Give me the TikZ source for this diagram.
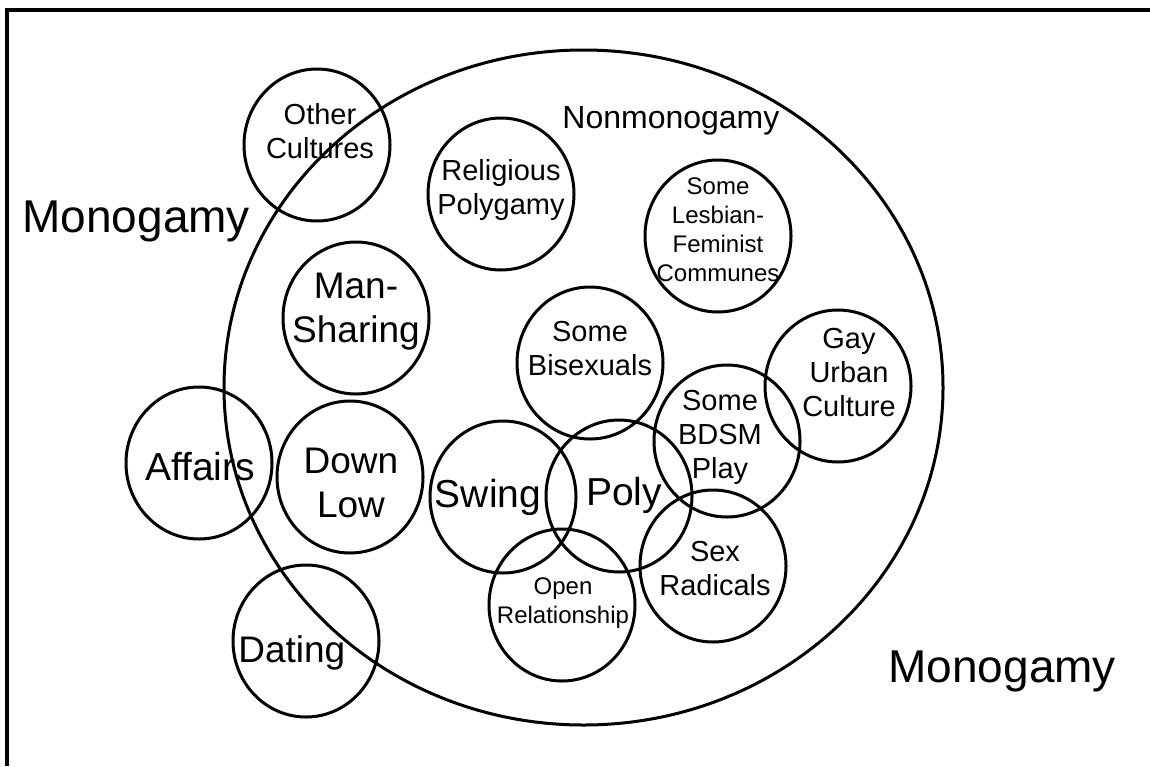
\documentclass[tikz,border=0pt]{standalone}
\usepackage{fontspec}
\setmainfont{Liberation Sans}
\usetikzlibrary{shapes.geometric}

\tikzset{
  ring/.style={draw, ellipse, line width=1.5pt, inner sep=0pt},
  bub/.style={ring, minimum width=73pt, minimum height=76pt},
  lbl/.style={align=center, inner sep=0pt},
  t12/.style={lbl, font=\fontsize{12}{14.5}\selectfont},
  t14/.style={lbl, font=\fontsize{14.5}{17}\selectfont},
  t18/.style={lbl, font=\fontsize{18.5}{22}\selectfont},
  t19/.style={lbl, font=\fontsize{19.5}{22}\selectfont},
}

\begin{document}
\begin{tikzpicture}[x=0.5pt, y=-0.5pt]
  \useasboundingbox (0,0) rectangle (1150,766);
  \fill[white] (0,0) rectangle (1150,766);
  \draw[line width=2pt] (7,766) -- (7,10) -- (1150,10);

  % the large set
  \node[ring, minimum width=359.5pt, minimum height=337.5pt] (nonmono) at (583.5,387.5) {};
  \node[lbl, anchor=base west, font=\fontsize{16}{19}\selectfont] (nonmono-t) at (562,128) {Nonmonogamy};
  \node[lbl, anchor=base west, font=\fontsize{23}{27}\selectfont] (mono-l) at (22,232) {Monogamy};
  \node[lbl, anchor=base west, font=\fontsize{23}{27}\selectfont] (mono-r) at (888,682) {Monogamy};

  % bubbles: name / centre / text offset / size / text
  \foreach \nm/\cx/\cy/\dx/\dy/\sz/\txt in {
    oc/317/145/3/-14/t14/{Other\\Cultures},
    rp/501/194/0/-4/t14/{Religious\\Polygamy},
    lfc/718/236/0/-6/t12/{Some\\Lesbian-\\Feminist\\Communes},
    ms/356/318/0/-6/t18/{Man-\\Sharing},
    sb/590/363/0/-14/t14/{Some\\Bisexuals},
    guc/838/386/11/-13/t14/{Gay\\Urban\\Culture},
    aff/199/463/1/4/t19/{Affairs},
    dl/350/477/1/6/t18/{Down\\Low},
    sw/503/497/-15/0/t19/{Swing},
    po/619/496/5/-1/t19/{Poly},
    bdsm/727/441/-7/-4/t14/{Some\\BDSM\\Play},
    sr/713/566/2/3/t14/{Sex\\Radicals},
    or/562/605/1/-2/t12/{Open\\Relationship},
    dat/306/641/-9/12/t18/{Dating}
  }{
    \node[bub] (\nm) at (\cx,\cy) {};
    \node[\sz] (\nm-t) at ([shift={(\dx,\dy)}]\nm) {\txt};
  }
\end{tikzpicture}
\end{document}
